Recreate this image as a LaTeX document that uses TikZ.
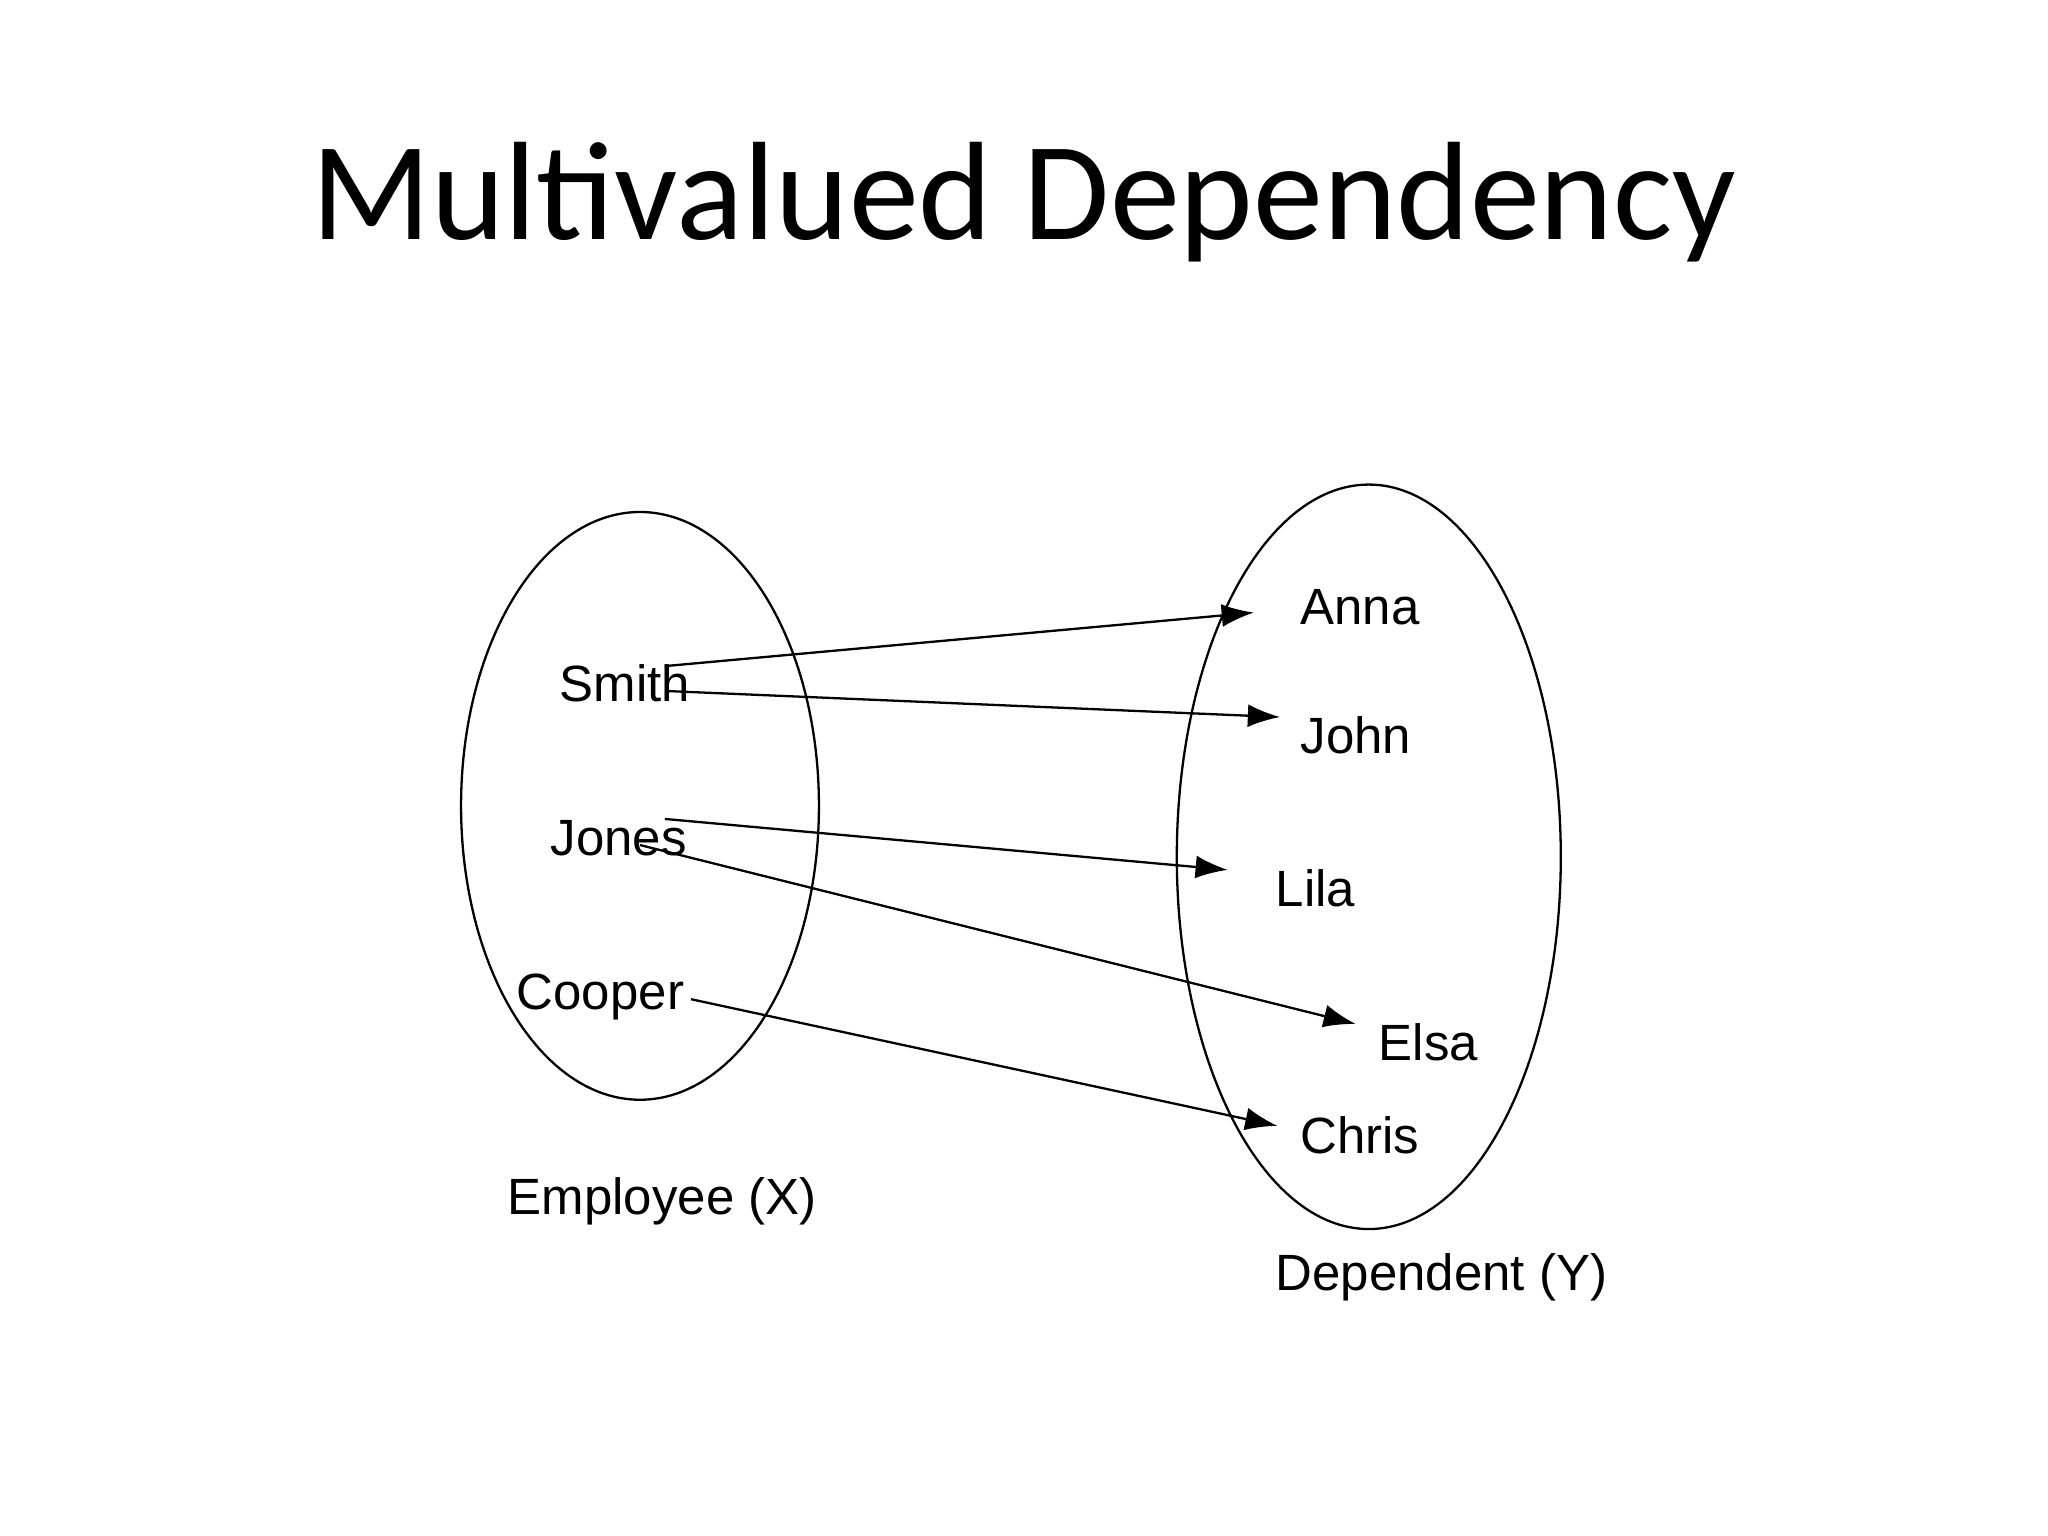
\documentclass[tikz,border=0pt]{standalone}
\usepackage{fontspec}
\setmainfont{Liberation Sans}
\newfontfamily\titlefont{Carlito}
\usetikzlibrary{arrows.meta}
\begin{document}
\begin{tikzpicture}[x=0.01cm,y=-0.01cm,
  lbl/.style={anchor=base west,inner sep=0pt,font=\fontsize{11.1pt}{13pt}\selectfont},
  arr/.style={-{Latex[length=7pt,width=5pt]},line width=0.5pt}]
\useasboundingbox (0,0) rectangle (1568,1176);
\node[font=\titlefont\fontsize{30.5pt}{36pt}\selectfont] (title) at (784,155) {Multivalued Dependency};
\draw[line width=0.5pt] (490,617) ellipse [x radius=137, y radius=225];
\draw[line width=0.5pt] (1048,656) ellipse [x radius=147, y radius=285];
\node[lbl] (smith) at (428,537) {Smith};
\node[lbl] (jones) at (421,655) {Jones};
\node[lbl] (cooper) at (395,773) {Cooper};
\node[lbl] (anna) at (995,478) {Anna};
\node[lbl] (john) at (995,577) {John};
\node[lbl] (lila) at (976,694) {Lila};
\node[lbl] (elsa) at (1055,812) {Elsa};
\node[lbl] (chris) at (995,883) {Chris};
\node[lbl] (emp) at (388,930) {Employee (X)};
\node[lbl] (dep) at (976,988) {Dependent (Y)};
\coordinate (s1) at (509,510); \coordinate (a1) at (960,469);
\coordinate (s2) at (509,529); \coordinate (a2) at (980,549);
\coordinate (j1) at (509,627); \coordinate (a3) at (940,666);
\coordinate (j2) at (490,647); \coordinate (a4) at (1038,784);
\coordinate (c1) at (529,765); \coordinate (a5) at (978,862);
\draw[arr] (s1) -- (a1);
\draw[arr] (s2) -- (a2);
\draw[arr] (j1) -- (a3);
\draw[arr] (j2) -- (a4);
\draw[arr] (c1) -- (a5);
\end{tikzpicture}
\end{document}
